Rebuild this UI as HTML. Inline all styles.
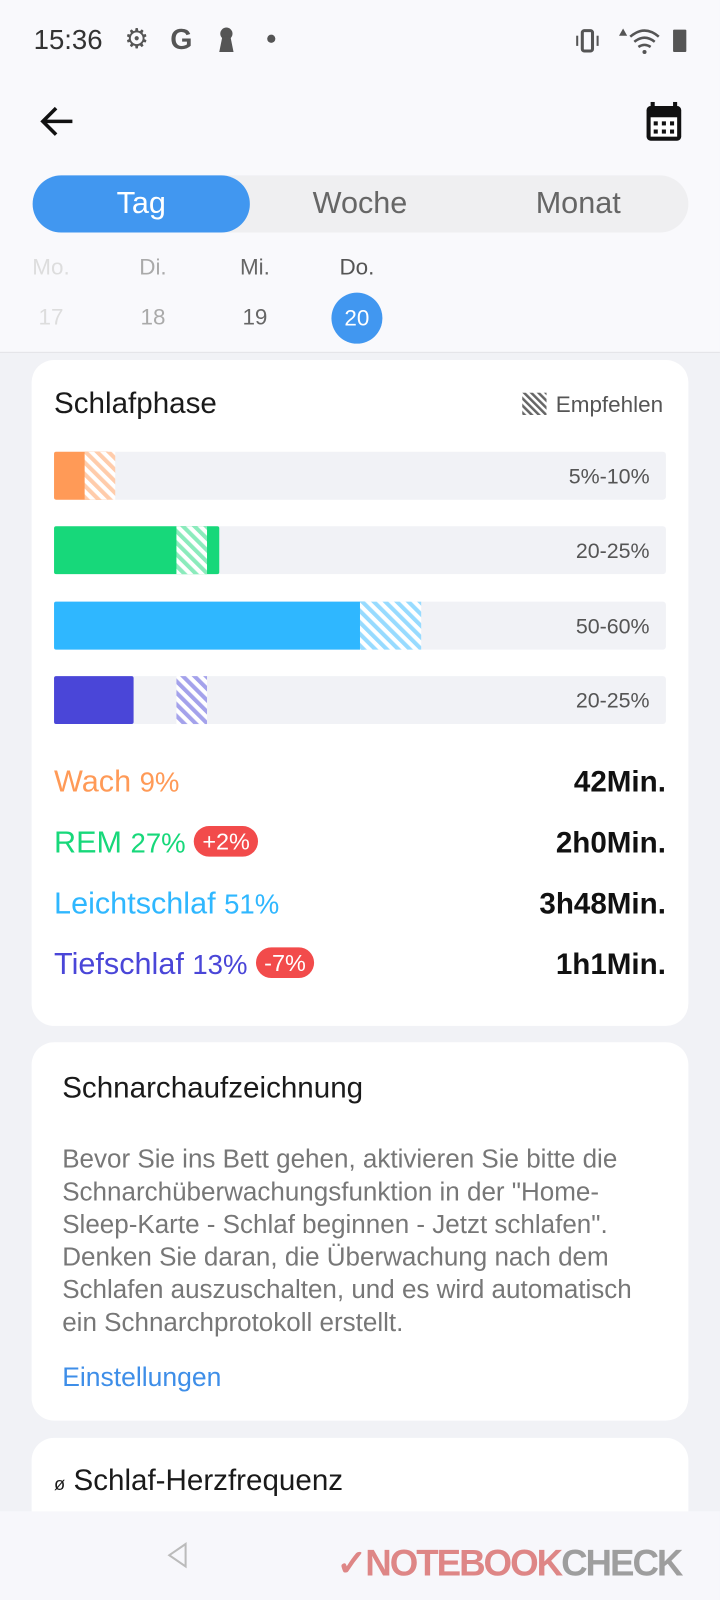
<!DOCTYPE html>
<html><head><meta charset="utf-8"><style>
*{margin:0;padding:0;box-sizing:border-box}
html,body{width:720px;height:1600px;overflow:hidden}
body{background:#f1f2f6;font-family:"Liberation Sans",sans-serif;position:relative}
#wrap{position:absolute;left:0;top:0;width:706px;height:1569px;overflow:hidden;transform:scale(1.0198);transform-origin:0 0}
.a{position:absolute}
.top{left:0;top:0;width:706px;height:346px;background:#f9f9fc;border-bottom:1px solid #e2e2e6}
.card{background:#fff;border-radius:22px;left:31px;width:644px}
.lbl{font-size:30px;white-space:nowrap}
.pct{font-size:27px}
.badge{background:#f24b4b;color:#fff;font-size:23px;border-radius:16px;padding:2px 8px;vertical-align:3px}
.dur{right:53px;font-size:29px;color:#111;font-weight:bold}
</style></head><body>
<div id="wrap">
<div class="a top"></div>
<div class="a" style="left:33px;top:24px;font-size:27px;color:#333">15:36</div>
<div class="a" style="left:122px;top:23px;font-size:27px;color:#555">⚙</div>
<div class="a" style="left:167px;top:23px;font-size:28px;font-weight:bold;color:#555">G</div>
<svg class="a" style="left:212px;top:26px" width="20" height="26"><circle cx="10" cy="7" r="6" fill="#555"/><path d="M6 10 L14 10 L17 25 L3 25Z" fill="#555"/></svg>
<div class="a" style="left:262px;top:34px;width:8px;height:8px;border-radius:4px;background:#555"></div>
<svg class="a" style="left:562px;top:26px" width="120" height="28"><rect x="9" y="4" width="10" height="20" rx="2" fill="none" stroke="#555" stroke-width="3"/><rect x="3" y="9" width="2" height="10" fill="#555"/><rect x="23" y="9" width="2" height="10" fill="#555"/><path d="M49 2 l4 7 h-8z" fill="#555"/><path d="M56 10 q14 -12 28 0 M60 15 q10 -8 20 0 M64 20 q6 -4 12 0" stroke="#555" stroke-width="2.5" fill="none"/><circle cx="70" cy="25" r="2" fill="#555"/><rect x="98" y="3" width="13" height="22" rx="1" fill="#555"/></svg>
<svg class="a" style="left:38px;top:102px" width="36" height="34"><path d="M33 17 H5 M17 4 L4 17 L17 30" stroke="#111" stroke-width="3.5" fill="none"/></svg>
<svg class="a" style="left:632px;top:98px" width="38" height="42"><rect x="2" y="6" width="34" height="34" rx="4" fill="#111"/><rect x="6" y="2" width="4" height="8" fill="#111"/><rect x="28" y="2" width="4" height="8" fill="#111"/><rect x="6" y="17" width="26" height="19" fill="#fff"/><g fill="#111"><rect x="9" y="21" width="4" height="4"/><rect x="17" y="21" width="4" height="4"/><rect x="25" y="21" width="4" height="4"/><rect x="9" y="29" width="4" height="4"/><rect x="17" y="29" width="4" height="4"/><rect x="25" y="29" width="4" height="4"/></g></svg>
<div class="a" style="left:32px;top:172px;width:643px;height:56px;border-radius:28px;background:#efeff1"></div>
<div class="a" style="left:32px;top:172px;width:213px;height:56px;border-radius:28px;background:#4197f0;color:#fff;font-size:30px;text-align:center;line-height:56px">Tag</div>
<div class="a" style="left:250px;top:172px;width:206px;height:56px;color:#666;font-size:30px;text-align:center;line-height:56px">Woche</div>
<div class="a" style="left:462px;top:172px;width:210px;height:56px;color:#666;font-size:30px;text-align:center;line-height:56px">Monat</div>
<div class="a" style="left:20px;top:249px;width:60px;text-align:center;font-size:22px;color:#ddd">Mo.<br><span style="line-height:72px">17</span></div>
<div class="a" style="left:120px;top:249px;width:60px;text-align:center;font-size:22px;color:#aaa">Di.<br><span style="line-height:72px">18</span></div>
<div class="a" style="left:220px;top:249px;width:60px;text-align:center;font-size:22px;color:#666">Mi.<br><span style="line-height:72px">19</span></div>
<div class="a" style="left:320px;top:249px;width:60px;text-align:center;font-size:22px;color:#555">Do.</div>
<div class="a" style="left:325px;top:287px;width:50px;height:50px;border-radius:25px;background:#4197f0;color:#fff;font-size:22px;text-align:center;line-height:50px">20</div>

<div class="a card" style="top:353px;height:653px"></div>
<div class="a" style="left:53px;top:380px;font-size:29px;color:#1a1a1a">Schlafphase</div>
<svg class="a" style="left:512px;top:385px" width="24" height="22"><defs><pattern id="lg" width="5" height="5" patternUnits="userSpaceOnUse" patternTransform="rotate(-45)"><rect width="2.5" height="5" fill="#666"/></pattern></defs><rect width="24" height="22" fill="url(#lg)"/></svg>
<div class="a" style="left:545px;top:384px;font-size:22px;color:#555">Empfehlen</div>
<svg class="a" id="chart" style="left:0;top:0" width="706" height="740"></svg>

<div class="a lbl" style="left:53px;top:750px;color:#ff9a57">Wach <span class="pct">9%</span></div>
<div class="a dur" style="top:751px">42Min.</div>
<div class="a lbl" style="left:53px;top:810px;color:#17d87a">REM <span class="pct">27%</span> <span class="badge">+2%</span></div>
<div class="a dur" style="top:811px">2h0Min.</div>
<div class="a lbl" style="left:53px;top:870px;color:#2fb7ff">Leichtschlaf <span class="pct">51%</span></div>
<div class="a dur" style="top:871px">3h48Min.</div>
<div class="a lbl" style="left:53px;top:929px;color:#4a46d8">Tiefschlaf <span class="pct">13%</span> <span class="badge">-7%</span></div>
<div class="a dur" style="top:930px">1h1Min.</div>

<div class="a card" style="top:1022px;height:371px"></div>
<div class="a" style="left:61px;top:1051px;font-size:29px;color:#1a1a1a">Schnarchaufzeichnung</div>
<div class="a" style="left:61px;top:1121px;width:570px;font-size:25.5px;line-height:32px;color:#777">Bevor Sie ins Bett gehen, aktivieren Sie bitte die Schnarchüberwachungsfunktion in der "Home-Sleep-Karte - Schlaf beginnen - Jetzt schlafen". Denken Sie daran, die Überwachung nach dem Schlafen auszuschalten, und es wird automatisch ein Schnarchprotokoll erstellt.</div>
<div class="a" style="left:61px;top:1335px;font-size:26px;color:#3e8ee8">Einstellungen</div>

<div class="a card" style="top:1410px;height:120px"></div>
<div class="a" style="left:53px;top:1436px;font-size:29px;color:#1a1a1a"><span style="font-size:18px">ø</span> Schlaf-Herzfrequenz</div>
<div class="a" style="left:0;top:1482px;width:706px;height:90px;background:#f7f7fb"></div>
<svg class="a" style="left:160px;top:1510px" width="30" height="30"><path d="M22 4 L6 15 L22 26Z" fill="none" stroke="#bbb" stroke-width="2"/></svg>
<div class="a" style="left:330px;top:1512px;width:370px;overflow:hidden;white-space:nowrap;font-size:36px;font-weight:bold;color:#d86a6a;opacity:.8;letter-spacing:-2px">✓NOTEBOOK<span style="color:#888">CHECK</span></div>
</div>

<script>
const phases=["Wach","REM","Leichtschlaf","Tiefschlaf"];
const values=[9,27,51,13];
const recLow=[5,20,50,20];
const recHigh=[10,25,60,25];
const rangeLabels=["5%-10%","20-25%","50-60%","20-25%"];
const colors=["#ff9a57","#17d87a","#2fb7ff","#4a46d8"];
const svg=document.getElementById('chart');
const NS="http://www.w3.org/2000/svg";
const x0=53,w=600,rowY=[443,516,590,663],h=47;
const xs=v=>x0+v/100*w;
function mk(t,a){const e=document.createElementNS(NS,t);for(const k in a)e.setAttribute(k,a[k]);svg.appendChild(e);return e;}
const defs=mk('defs',{});
phases.forEach((p,i)=>{
  const pat=document.createElementNS(NS,'pattern');
  pat.setAttribute('id','h'+i);pat.setAttribute('width','8');pat.setAttribute('height','8');
  pat.setAttribute('patternUnits','userSpaceOnUse');pat.setAttribute('patternTransform','rotate(-45)');
  const r1=document.createElementNS(NS,'rect');r1.setAttribute('width','8');r1.setAttribute('height','8');r1.setAttribute('fill','#fff');
  const r2=document.createElementNS(NS,'rect');r2.setAttribute('width','4');r2.setAttribute('height','8');r2.setAttribute('fill',colors[i]);r2.setAttribute('opacity','0.5');
  pat.appendChild(r1);pat.appendChild(r2);defs.appendChild(pat);
});
phases.forEach((p,i)=>{
  const y=rowY[i];
  const tr=mk('rect',{x:x0,y:y,width:w,height:h,rx:3,fill:'#f1f2f6'});
  
  
  const b=mk('rect',{x:x0,y:y,width:xs(values[i])-x0,height:h,rx:2,fill:colors[i]});
  
  
  const hr=mk('rect',{x:xs(recLow[i]),y:y,width:xs(recHigh[i])-xs(recLow[i]),height:h,fill:'url(#h'+i+')'});
  
  
  const t=mk('text',{x:637,y:y+31,'text-anchor':'end','font-size':21,fill:'#555','font-family':'Liberation Sans, sans-serif'});
  t.textContent=rangeLabels[i];
  
  
});
</script>
</body></html>
